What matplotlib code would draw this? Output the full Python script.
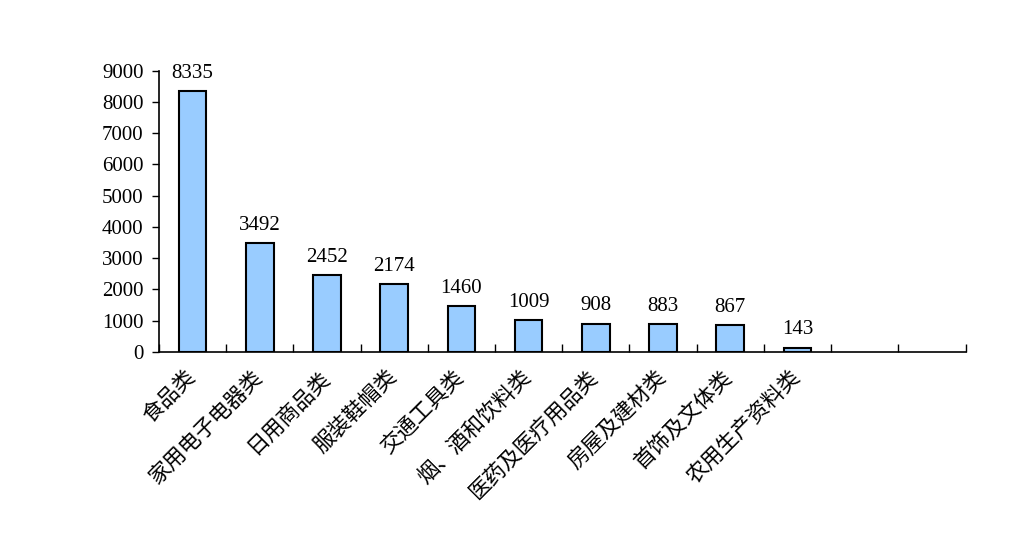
import matplotlib
matplotlib.use("Agg")
import matplotlib.pyplot as plt
import matplotlib.transforms as mtransforms
import numpy as np

categories = ["食品类", "家用电子电器类", "日用商品类", "服装鞋帽类", "交通工具类",
              "烟、酒和饮料类", "医药及医疗用品类", "房屋及建材类", "首饰及文体类",
              "农用生产资料类", "", ""]
values = [8335, 3492, 2452, 2174, 1460, 1009, 908, 883, 867, 143]
yticks = [0, 1000, 2000, 3000, 4000, 5000, 6000, 7000, 8000, 9000]

fig = plt.figure(figsize=(10.21, 5.35), dpi=100)
ax = fig.add_axes([159/1021, 1 - 352/535, (965.5 - 159)/1021, (352 - 70.7)/535])

n = len(categories)
x = np.arange(len(values))
bars = ax.bar(x, values, width=0.41, color="#99CCFF", edgecolor="black", linewidth=1.5, zorder=3)

for xi, v in zip(x, values):
    ax.annotate(str(v), (xi, v), xytext=(0, 6), textcoords="offset points",
                ha="center", va="bottom", fontsize=15, family="Liberation Serif")

ax.set_xlim(-0.5, n - 0.5)
ax.set_ylim(0, 9000)
ax.set_yticks(yticks)
ax.set_yticklabels([str(t) for t in yticks], family="Liberation Serif", fontsize=15)
ax.tick_params(axis="y", direction="out", length=5, width=1, pad=6)

# category boundary ticks
ax.set_xticks(np.arange(n + 1) - 0.5)
ax.set_xticklabels([])
ax.tick_params(axis="x", which="major", direction="in", length=6, width=1)
ax.set_xticks(np.arange(n), minor=True)
ax.set_xticklabels(categories, minor=True, rotation=45, ha="right", va="top",
                   family=["Noto Sans CJK SC", "DejaVu Sans"], fontsize=15.5)
ax.tick_params(axis="x", which="minor", length=0, pad=10)
shift = mtransforms.ScaledTranslation(7/100, 0, fig.dpi_scale_trans)
for lbl in ax.get_xticklabels(minor=True):
    lbl.set_transform(lbl.get_transform() + shift)

for s in ["top", "right"]:
    ax.spines[s].set_visible(False)
for s in ["left", "bottom"]:
    ax.spines[s].set_linewidth(1.2)

fig.savefig("out.png", dpi=100)
